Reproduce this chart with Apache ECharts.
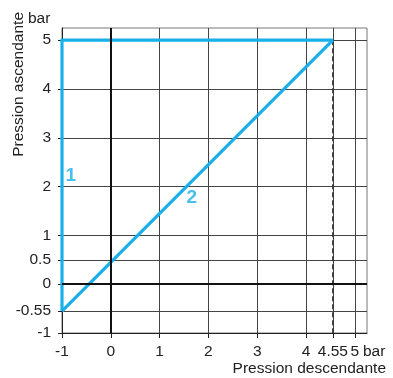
<!DOCTYPE html>
<html><head><meta charset="utf-8">
<script src="https://cdn.jsdelivr.net/npm/echarts@6/dist/echarts.min.js"></script>
<style>html,body{margin:0;padding:0;background:#fff}#c{width:393px;height:378px}</style>
</head><body><div id="c"></div>
<script>
const xTicks = [-1, 0, 1, 2, 3, 4, 4.55, 5];
const yTicks = [-1, -0.55, 0, 0.5, 1, 2, 3, 4, 5];
const curve1X = [-1, -1, 4.55];
const curve1Y = [-0.55, 5, 5];
const curve2X = [-1, 4.55];
const curve2Y = [-0.55, 5];
const dashX = [4.55, 4.55];
const dashY = [5, -1];
const labelX = [-0.82, 1.66];
const labelY = [2.23, 1.78];
const labelText = ['1', '2'];

const FONT = "'Liberation Sans', Arial, sans-serif";
const BLUE = '#19b0ea';
const zip = (xs, ys) => xs.map((x, i) => [x, ys[i]]);

const chart = echarts.init(document.getElementById('c'));
chart.setOption({
  animation: false,
  grid: { left: 62, right: 26, top: 28, bottom: 45, show: true, borderColor: '#777', borderWidth: 1 },
  xAxis: {
    type: 'value', min: -1, max: 5.25, interval: 0.5,
    axisLine: { show: true, onZero: false, lineStyle: { color: '#222', width: 1 } },
    axisTick: { show: true, customValues: xTicks, length: 5, lineStyle: { color: '#222' } },
    axisLabel: {
      customValues: xTicks, margin: 11, color: '#222', fontFamily: FONT, fontSize: 15.5,
      hideOverlap: false
    },
    splitLine: { show: true, lineStyle: { color: '#444', width: 1 } }
  },
  yAxis: {
    type: 'value', min: -1, max: 5.25, interval: 0.5,
    axisLine: { show: true, onZero: false, lineStyle: { color: '#222', width: 1 } },
    axisTick: { show: true, customValues: yTicks, length: 4, lineStyle: { color: '#222' } },
    axisLabel: { customValues: yTicks, margin: 11, color: '#222', fontFamily: FONT, fontSize: 15.5 },
    splitLine: { show: true, lineStyle: { color: '#444', width: 1 } }
  },
  graphic: [
    { type: 'text', left: 28, top: 11, style: { text: 'bar', font: '15.5px ' + FONT, fill: '#222' } },
    { type: 'text', left: 363, top: 344, style: { text: 'bar', font: '15.5px ' + FONT, fill: '#222' } },
    { type: 'text', left: 11, top: 12, rotation: Math.PI / 2, originX: 0, originY: 0,
      style: { text: 'Pression ascendante', font: '15.5px ' + FONT, fill: '#222' } },
    { type: 'text', right: 7, top: 361, style: { text: 'Pression descendante', font: '15.5px ' + FONT, fill: '#222' } }
  ],
  series: [
    {
      type: 'line', data: [], silent: true,
      markLine: {
        symbol: 'none', silent: true, label: { show: false },
        lineStyle: { color: '#111', width: 2, type: 'solid' },
        data: [{ xAxis: 0 }, { yAxis: 0 }]
      }
    },
    { type: 'line', data: zip(dashX, dashY), symbol: 'none', silent: true,
      lineStyle: { color: '#333', width: 1.5, type: [5, 3] } },
    { type: 'line', data: zip(curve1X, curve1Y), symbol: 'none', silent: true,
      lineStyle: { color: BLUE, width: 3.2, join: 'miter' } },
    { type: 'line', data: zip(curve2X, curve2Y), symbol: 'none', silent: true,
      lineStyle: { color: BLUE, width: 3.2 } },
    { type: 'scatter', symbolSize: 0, silent: true,
      data: labelX.map((x, i) => ({ value: [x, labelY[i]], label: { formatter: labelText[i] } })),
      label: { show: true, position: 'inside', color: BLUE, fontFamily: FONT, fontSize: 19, fontWeight: 'bold' } }
  ]
});
</script></body></html>
